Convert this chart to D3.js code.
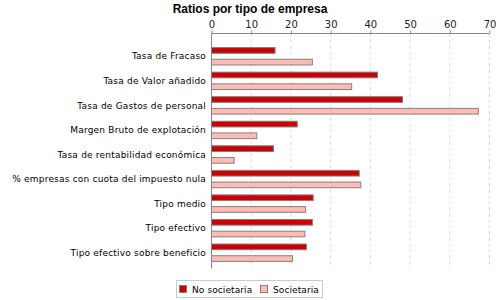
<!DOCTYPE html>
<html>
<head>
<meta charset="utf-8">
<script src="https://cdn.jsdelivr.net/npm/d3@7"></script>
<style>
  body { margin: 0; background: #fff; }
  text { font-family: "DejaVu Sans", sans-serif; }
</style>
</head>
<body>
<div id="chart"></div>
<script>
var categories = ["Tasa de Fracaso", "Tasa de Valor añadido", "Tasa de Gastos de personal",
  "Margen Bruto de explotación", "Tasa de rentabilidad económica",
  "% empresas con cuota del impuesto nula", "Tipo medio", "Tipo efectivo",
  "Tipo efectivo sobre beneficio"];
var noSocietaria = [16.0, 41.8, 48.1, 21.6, 15.6, 37.2, 25.6, 25.4, 23.9];
var societaria = [25.4, 35.3, 67.2, 11.4, 5.7, 37.6, 23.7, 23.5, 20.4];
var seriesNames = ["No societaria", "Societaria"];
var seriesColors = ["#cc0000", "#ffbbb4"];
var xTicks = [0, 10, 20, 30, 40, 50, 60, 70];

var svg = d3.select("#chart").append("svg")
    .attr("width", 500)
    .attr("height", 300);

// title
svg.append("text")
    .attr("x", 250).attr("y", 13)
    .attr("text-anchor", "middle")
    .style("font-family", "'Liberation Sans', Arial, sans-serif")
    .attr("font-weight", "bold")
    .attr("font-size", "12px")
    .text("Ratios por tipo de empresa");

var x = d3.scaleLinear().domain([0, 70]).range([211.5, 489.5]);
var y = d3.scaleBand().domain(categories).range([44, 265]);
var plotTop = 33.5, plotBottom = 268.5;

// grid
svg.selectAll(".grid")
    .data(xTicks.slice(1))
    .enter().append("line")
    .attr("x1", function(d) { return x(d); })
    .attr("x2", function(d) { return x(d); })
    .attr("y1", plotTop).attr("y2", plotBottom)
    .attr("stroke", "#d8d8d8")
    .attr("stroke-dasharray", "3,3");

// top axis
var xAxis = svg.append("g")
    .attr("transform", "translate(0," + plotTop + ")")
    .call(d3.axisTop(x).tickValues(xTicks).tickSize(3).tickPadding(3));
xAxis.select(".domain").attr("stroke", "#888").attr("d", "M" + x(0) + ",0H" + x(70));
xAxis.selectAll(".tick line").attr("stroke", "#888");
xAxis.selectAll(".tick text").attr("font-size", "10px").attr("fill", "#222");

// left axis line
svg.append("line")
    .attr("x1", x(0)).attr("x2", x(0))
    .attr("y1", plotTop).attr("y2", plotBottom)
    .attr("stroke", "#888");

var rows = categories.map(function(c, i) {
  return {cat: c, vals: [noSocietaria[i], societaria[i]]};
});

var g = svg.selectAll(".cat")
    .data(rows)
    .enter().append("g")
    .attr("transform", function(d) { return "translate(0," + (y(d.cat) + y.bandwidth() / 2) + ")"; });

g.selectAll("rect")
    .data(function(d) { return d.vals; })
    .enter().append("rect")
    .attr("x", x(0))
    .attr("y", function(d, i) { return i === 0 ? -8.7 : 3; })
    .attr("width", function(d) { return x(d) - x(0); })
    .attr("height", 5.7)
    .attr("fill", function(d, i) { return seriesColors[i]; })
    .attr("stroke", "#808080")
    .attr("stroke-width", 1);

g.append("text")
    .attr("x", 206)
    .attr("y", 0)
    .attr("dy", "0.35em")
    .attr("text-anchor", "end")
    .attr("font-size", "9px")
    .attr("letter-spacing", "0.2px")
    .attr("fill", "#000")
    .text(function(d) { return d.cat; });

// legend
var legend = svg.append("g");
legend.append("rect")
    .attr("x", 176.5).attr("y", 280.5)
    .attr("width", 146).attr("height", 17)
    .attr("fill", "none").attr("stroke", "#ccc");
var legendX = [179, 260];
seriesNames.forEach(function(n, i) {
  legend.append("rect")
      .attr("x", legendX[i] + 0.5).attr("y", 285.5)
      .attr("width", 7).attr("height", 7)
      .attr("fill", seriesColors[i]).attr("stroke", "#808080");
  legend.append("text")
      .attr("x", legendX[i] + 13).attr("y", 292.5)
      .attr("font-size", "9px")
      .attr("letter-spacing", "0.1px")
      .attr("fill", "#000")
      .text(n);
});
</script>
</body>
</html>
